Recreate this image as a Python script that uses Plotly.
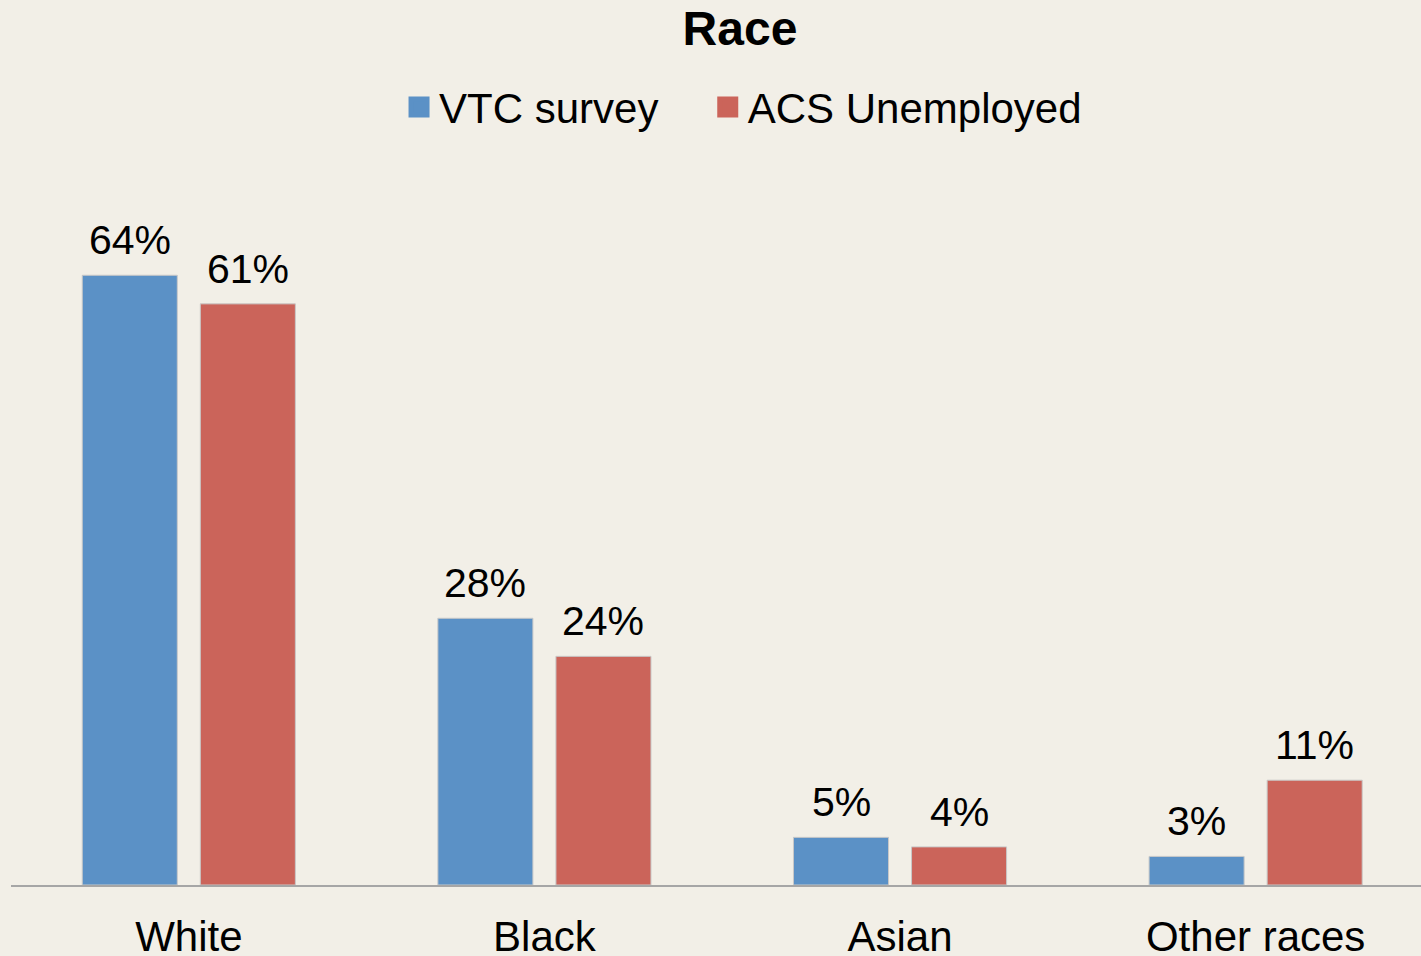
import plotly.graph_objects as go

categories = ["White", "Black", "Asian", "Other races"]
vtc_survey = [64, 28, 5, 3]
acs_unemployed = [61, 24, 4, 11]

BLUE = "#5B91C6"
RED = "#CB645A"
BG = "#F2EFE7"
FONT = "Liberation Sans, Arial, sans-serif"

# trailing spaces on the first legend entry widen the gap between entries
series = [
    ("VTC survey", "VTC survey\u2002\u00a0\u00a0", vtc_survey, BLUE, -59),
    ("ACS Unemployed", "ACS Unemployed", acs_unemployed, RED, 59),
]

fig = go.Figure()
for name, legend_name, values, color, shift in series:
    fig.add_trace(go.Bar(
        x=categories, y=values, name=name,
        marker=dict(color=color, line=dict(color="#C8C8C8", width=1)),
        cliponaxis=False, showlegend=False,
    ))
    # bigger legend swatch than the default bar icon
    fig.add_trace(go.Scatter(
        x=[None], y=[None], mode="markers", name=legend_name,
        marker=dict(symbol="square", size=16, color=color, line=dict(color=color, width=5)),
    ))
    for cat, v in zip(categories, values):
        fig.add_annotation(
            x=cat, y=v, text=f"{v}%", showarrow=False,
            xshift=shift, yshift=10, yanchor="bottom",
            font=dict(size=41, family=FONT, color="#000000"),
        )

fig.update_layout(
    width=1421, height=956,
    paper_bgcolor=BG, plot_bgcolor=BG,
    margin=dict(l=11, r=0, t=160, b=71),
    barmode="group", bargap=0.336, bargroupgap=0.195,
    font=dict(family=FONT, size=42, color="#000000"),
    title=dict(
        text="<b>Race</b>", x=0.517, xref="paper", xanchor="center",
        y=0.971, yref="container", yanchor="middle",
        font=dict(size=48, family=FONT, color="#000000"),
    ),
    legend=dict(
        orientation="h", x=0.2752, xanchor="left", y=1.073, yanchor="middle",
        font=dict(size=42, family=FONT), bgcolor="rgba(0,0,0,0)",
    ),
    xaxis=dict(
        range=[-0.5, 3.465], showgrid=False, zeroline=False, automargin=False,
        showline=True, linecolor="#A6A6A6", linewidth=2,
        ticks="", ticklabelstandoff=14, tickfont=dict(size=42, family=FONT),
    ),
    yaxis=dict(range=[0, 76.1], visible=False),
)

fig.write_html(
    "out.html",
    config={"displayModeBar": False},
    post_script="document.body.style.margin='0';",
)
